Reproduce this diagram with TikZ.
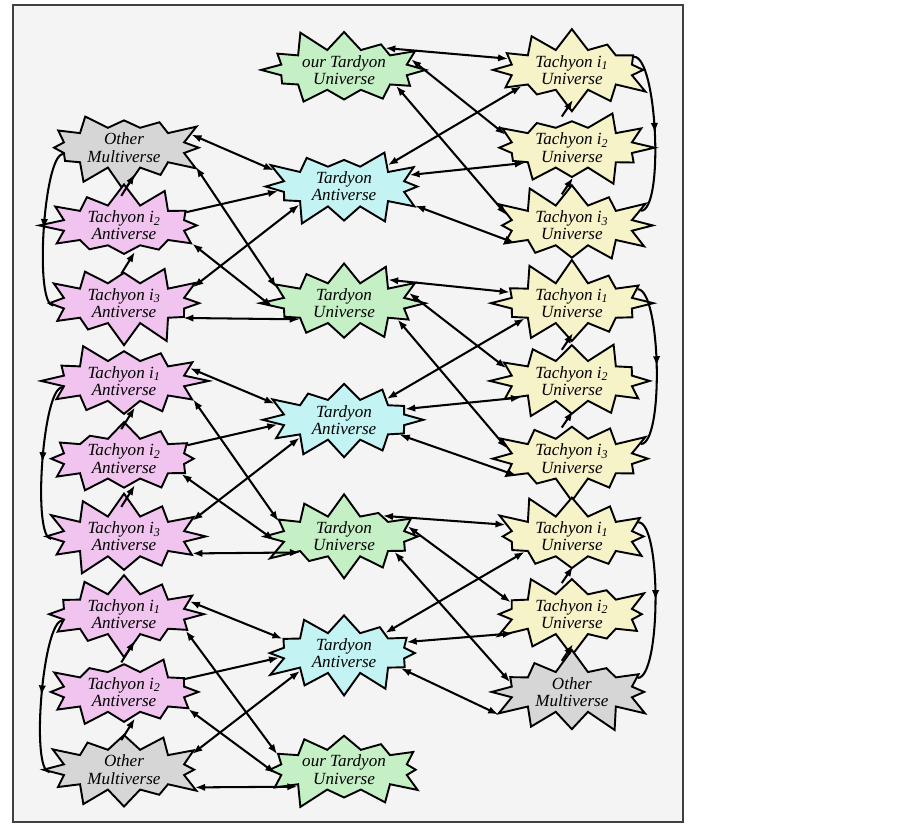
\documentclass[tikz,border=0pt]{standalone}
\usepackage{fontspec}
\setmainfont{Liberation Serif}
\usetikzlibrary{shapes.symbols,arrows.meta,decorations.markings,calc}

\definecolor{tardyonuni}{RGB}{197,240,197}
\definecolor{tardyonanti}{RGB}{196,243,243}
\definecolor{tachyonuni}{RGB}{246,243,200}
\definecolor{tachyonanti}{RGB}{240,196,238}
\definecolor{othermulti}{RGB}{214,214,214}
\definecolor{paper}{RGB}{244,244,244}
\definecolor{rim}{RGB}{64,64,64}

\tikzset{
  burst/.style={starburst, starburst points=12, starburst point height=0.6cm,
    minimum width=4.4cm, minimum height=1.9cm,
    draw, line width=1.4pt, line join=miter, inner xsep=3pt, inner ysep=0pt,
    align=center, font=\fontsize{12.5}{12.5}\selectfont\itshape},
  tuni/.style={burst, fill=tardyonuni},
  tanti/.style={burst, fill=tardyonanti},
  cuni/.style={burst, fill=tachyonuni},
  canti/.style={burst, fill=tachyonanti},
  other/.style={burst, fill=othermulti},
  midarrow/.style={-, postaction={decorate},
    decoration={markings, mark=at position 0.5 with {\arrow{>}}}},
}

\begin{document}
\begin{tikzpicture}[>={Latex[length=2.6mm,width=1.9mm]}, line width=1.5pt]
    \useasboundingbox (0,0) rectangle (23.228,21.299);
    \draw[rim, fill=paper, line width=1pt] (0.334,0.154) rectangle (17.57,21.17);

    % middle column
    \node[tuni, random starburst=11] (m1) at (8.85,19.5) {our Tardyon\\Universe};
    \node[tanti, random starburst=23] (m2) at (8.85,16.5) {Tardyon\\Antiverse};
    \node[tuni, random starburst=37] (m3) at (8.85,13.5) {Tardyon\\Universe};
    \node[tanti, random starburst=41] (m4) at (8.85,10.5) {Tardyon\\Antiverse};
    \node[tuni, random starburst=53] (m5) at (8.85,7.5) {Tardyon\\Universe};
    \node[tanti, random starburst=67] (m6) at (8.85,4.5) {Tardyon\\Antiverse};
    \node[tuni, random starburst=71] (m7) at (8.85,1.5) {our Tardyon\\Universe};

    % left column
    \node[other, random starburst=13] (l1) at (3.19,17.5) {Other\\Multiverse};
    \node[canti, random starburst=17] (l2) at (3.19,15.5) {Tachyon i\textsubscript{2}\\Antiverse};
    \node[canti, random starburst=19] (l3) at (3.19,13.5) {Tachyon i\textsubscript{3}\\Antiverse};
    \node[canti, random starburst=29] (l4) at (3.19,11.5) {Tachyon i\textsubscript{1}\\Antiverse};
    \node[canti, random starburst=31] (l5) at (3.19,9.5) {Tachyon i\textsubscript{2}\\Antiverse};
    \node[canti, random starburst=43] (l6) at (3.19,7.5) {Tachyon i\textsubscript{3}\\Antiverse};
    \node[canti, random starburst=47] (l7) at (3.19,5.5) {Tachyon i\textsubscript{1}\\Antiverse};
    \node[canti, random starburst=59] (l8) at (3.19,3.5) {Tachyon i\textsubscript{2}\\Antiverse};
    \node[other, random starburst=61] (l9) at (3.19,1.5) {Other\\Multiverse};

    % right column
    \node[cuni, random starburst=73] (r1) at (14.71,19.5) {Tachyon i\textsubscript{1}\\Universe};
    \node[cuni, random starburst=79] (r2) at (14.71,17.5) {Tachyon i\textsubscript{2}\\Universe};
    \node[cuni, random starburst=83] (r3) at (14.71,15.5) {Tachyon i\textsubscript{3}\\Universe};
    \node[cuni, random starburst=89] (r4) at (14.71,13.5) {Tachyon i\textsubscript{1}\\Universe};
    \node[cuni, random starburst=97] (r5) at (14.71,11.5) {Tachyon i\textsubscript{2}\\Universe};
    \node[cuni, random starburst=101] (r6) at (14.71,9.5) {Tachyon i\textsubscript{3}\\Universe};
    \node[cuni, random starburst=103] (r7) at (14.71,7.5) {Tachyon i\textsubscript{1}\\Universe};
    \node[cuni, random starburst=107] (r8) at (14.71,5.5) {Tachyon i\textsubscript{2}\\Universe};
    \node[other, random starburst=109] (r9) at (14.71,3.5) {Other\\Multiverse};

    % right side, top group
    \draw[<->] (m1.28) -- (r1.170);
    \draw[<->] (m1.9) -- (r2.169);
    \draw[<->] (m1.-17) -- (r3.171);
    \draw[<->] (m2.26) -- (r1.198);
    \draw[<->] (m2.10) -- (r2.198);
    \draw[<->] (m2.-15) -- (r3.197);
    \draw[->] ($(r2)+(-0.26,0.8)$) -- ($(r1)+(0.03,-0.77)$);
    \draw[->] ($(r3)+(-0.26,0.8)$) -- ($(r2)+(0.03,-0.77)$);
    \draw[midarrow] (r1.12) .. controls +(0.6,0) and +(0.6,0) .. (r3.12);

    % right side, middle group
    \draw[<->] (m3.28) -- (r4.170);
    \draw[<->] (m3.9) -- (r5.169);
    \draw[<->] (m3.-17) -- (r6.171);
    \draw[<->] (m4.26) -- (r4.198);
    \draw[<->] (m4.10) -- (r5.198);
    \draw[<->] (m4.-15) -- (r6.197);
    \draw[->] ($(r5)+(-0.26,0.8)$) -- ($(r4)+(0.03,-0.77)$);
    \draw[->] ($(r6)+(-0.26,0.8)$) -- ($(r5)+(0.03,-0.77)$);
    \draw[midarrow] (r4.12) .. controls +(0.6,0) and +(0.6,0) .. (r6.12);

    % right side, bottom group
    \draw[<->] (m5.28) -- (r7.170);
    \draw[<->] (m5.9) -- (r8.169);
    \draw[<->] (m5.-17) -- (r9.171);
    \draw[<->] (m6.26) -- (r7.198);
    \draw[<->] (m6.10) -- (r8.198);
    \draw[<->] (m6.-15) -- (r9.197);
    \draw[->] ($(r8)+(-0.26,0.8)$) -- ($(r7)+(0.03,-0.77)$);
    \draw[->] ($(r9)+(-0.26,0.8)$) -- ($(r8)+(0.03,-0.77)$);
    \draw[midarrow] (r7.12) .. controls +(0.6,0) and +(0.6,0) .. (r9.12);

    % left side, top group
    \draw[<->] (l1.11) -- (m2.167);
    \draw[<->] (l1.-15) -- (m3.167);
    \draw[->] (l2.12) -- (m2.184);
    \draw[<->] (l2.-15) -- (m3.183);
    \draw[<->] (l3.13) -- (m2.202);
    \draw[<->] (l3.-14) -- (m3.200);
    \draw[->] ($(l2)+(-0.07,0.76)$) -- ($(l1)+(0.28,-0.68)$);
    \draw[->] ($(l3)+(-0.07,0.76)$) -- ($(l2)+(0.28,-0.68)$);
    \draw[midarrow] (l1.186) .. controls +(-0.5,0) and +(-0.5,0) .. (l3.182);

    % left side, middle group
    \draw[<->] (l4.11) -- (m4.167);
    \draw[<->] (l4.-15) -- (m5.167);
    \draw[->] (l5.12) -- (m4.184);
    \draw[<->] (l5.-15) -- (m5.183);
    \draw[<->] (l6.13) -- (m4.202);
    \draw[<->] (l6.-14) -- (m5.200);
    \draw[->] ($(l5)+(-0.07,0.76)$) -- ($(l4)+(0.28,-0.68)$);
    \draw[->] ($(l6)+(-0.07,0.76)$) -- ($(l5)+(0.28,-0.68)$);
    \draw[midarrow] (l4.186) .. controls +(-0.5,0) and +(-0.5,0) .. (l6.182);

    % left side, bottom group
    \draw[<->] (l7.11) -- (m6.167);
    \draw[<->] (l7.-15) -- (m7.167);
    \draw[->] (l8.12) -- (m6.184);
    \draw[<->] (l8.-15) -- (m7.183);
    \draw[<->] (l9.13) -- (m6.202);
    \draw[<->] (l9.-14) -- (m7.200);
    \draw[->] ($(l8)+(-0.07,0.76)$) -- ($(l7)+(0.28,-0.68)$);
    \draw[->] ($(l9)+(-0.07,0.76)$) -- ($(l8)+(0.28,-0.68)$);
    \draw[midarrow] (l7.186) .. controls +(-0.5,0) and +(-0.5,0) .. (l9.182);
\end{tikzpicture}
\end{document}
